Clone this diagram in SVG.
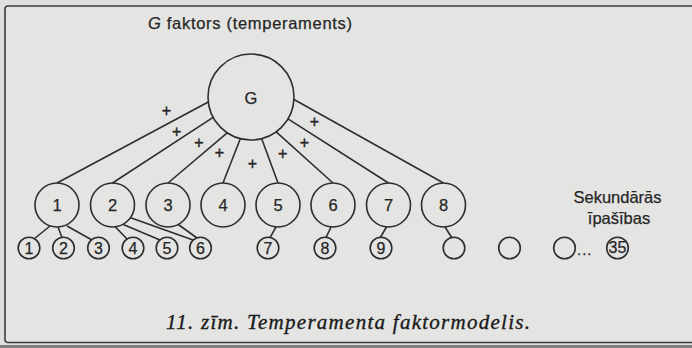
<svg xmlns="http://www.w3.org/2000/svg" width="692" height="348" viewBox="0 0 692 348">
<style>
.ln{stroke:#2e2e2e;stroke-width:1.6;fill:none}
.c{stroke:#2e2e2e;stroke-width:1.6;fill:none}
.t{font-family:"Liberation Sans",Arial,sans-serif;fill:#262626;stroke:#262626;stroke-width:0.25}
.n{font-family:"Liberation Sans",Arial,sans-serif;fill:#262626;stroke:#262626;stroke-width:0.25;font-size:16.5px;text-anchor:middle}
.s{font-family:"Liberation Sans",Arial,sans-serif;fill:#262626;stroke:#262626;stroke-width:0.25;font-size:16px;text-anchor:middle}
.p{font-family:"Liberation Sans",Arial,sans-serif;fill:#262626;stroke:#262626;stroke-width:0.4;font-size:16px;text-anchor:middle}
</style>
<rect x="0" y="0" width="692" height="348" fill="#dfdfdd"/>
<rect x="5" y="6" width="700" height="336.5" rx="3" fill="#e4e4e2" stroke="#3c3c3c" stroke-width="1.6"/>
<rect x="0" y="345" width="692" height="3" fill="#7e7e7c"/>
<text class="t" x="148" y="29" font-size="16.5" textLength="204" lengthAdjust="spacing"><tspan font-style="italic">G</tspan> faktors (temperaments)</text>

<g id="connectors">
<line class="ln" x1="208.3" y1="102" x2="57" y2="183"/>
<line class="ln" x1="213.1" y1="117.4" x2="112.5" y2="183"/>
<line class="ln" x1="227.2" y1="132.8" x2="168" y2="183"/>
<line class="ln" x1="240.3" y1="138.7" x2="223" y2="183"/>
<line class="ln" x1="261.7" y1="138.7" x2="278" y2="183"/>
<line class="ln" x1="276.2" y1="131.9" x2="333" y2="183"/>
<line class="ln" x1="288" y1="118.8" x2="388.5" y2="183"/>
<line class="ln" x1="294" y1="99.5" x2="443.5" y2="183"/>
<line class="ln" x1="50" y1="226" x2="34" y2="239"/>
<line class="ln" x1="58" y1="227" x2="62" y2="237.5"/>
<line class="ln" x1="67" y1="226" x2="92" y2="240"/>
<line class="ln" x1="115" y1="226.5" x2="127" y2="239"/>
<line class="ln" x1="123.3" y1="224.5" x2="160" y2="240"/>
<line class="ln" x1="130" y1="217.5" x2="193" y2="240"/>
<line class="ln" x1="178.3" y1="224.5" x2="197" y2="238"/>
<line class="ln" x1="276" y1="227" x2="270" y2="237.7"/>
<line class="ln" x1="331" y1="227" x2="326" y2="237.7"/>
<line class="ln" x1="386.5" y1="227" x2="380" y2="238"/>
<line class="ln" x1="445" y1="227" x2="452" y2="238"/>
<text class="p" x="166.5" y="115.5">+</text>
<text class="p" x="176.7" y="136.5">+</text>
<text class="p" x="199" y="147.5">+</text>
<text class="p" x="219.5" y="157.5">+</text>
<text class="p" x="252.3" y="168.5">+</text>
<text class="p" x="282.7" y="158.5">+</text>
<text class="p" x="304.5" y="147.5">+</text>
<text class="p" x="314.5" y="126.5">+</text>
</g>

<g id="G"><circle class="c" cx="251" cy="97" r="43"/><text class="n" x="251" y="104" font-size="17.5">G</text></g>

<g id="f1"><circle class="c" cx="57" cy="205" r="22"/><text class="n" x="57" y="211">1</text></g>
<g id="f2"><circle class="c" cx="112.5" cy="205" r="22"/><text class="n" x="112.5" y="211">2</text></g>
<g id="f3"><circle class="c" cx="168" cy="205" r="22"/><text class="n" x="168" y="211">3</text></g>
<g id="f4"><circle class="c" cx="223" cy="205" r="22"/><text class="n" x="223" y="211">4</text></g>
<g id="f5"><circle class="c" cx="278" cy="205" r="22"/><text class="n" x="278" y="211">5</text></g>
<g id="f6"><circle class="c" cx="333" cy="205" r="22"/><text class="n" x="333" y="211">6</text></g>
<g id="f7"><circle class="c" cx="388.5" cy="205" r="22"/><text class="n" x="388.5" y="211">7</text></g>
<g id="f8"><circle class="c" cx="443.5" cy="205" r="22"/><text class="n" x="443.5" y="211">8</text></g>

<g id="s1"><circle class="c" cx="29" cy="248" r="10.8"/><text class="s" x="29" y="253.8">1</text></g>
<g id="s2"><circle class="c" cx="63.5" cy="248" r="10.8"/><text class="s" x="63.5" y="253.8">2</text></g>
<g id="s3"><circle class="c" cx="98.5" cy="248" r="10.8"/><text class="s" x="98.5" y="253.8">3</text></g>
<g id="s4"><circle class="c" cx="133" cy="248" r="10.8"/><text class="s" x="133" y="253.8">4</text></g>
<g id="s5"><circle class="c" cx="167" cy="248" r="10.8"/><text class="s" x="167" y="253.8">5</text></g>
<g id="s6"><circle class="c" cx="200.5" cy="248" r="10.8"/><text class="s" x="200.5" y="253.8">6</text></g>
<g id="s7"><circle class="c" cx="268" cy="248" r="10.8"/><text class="s" x="268" y="253.8">7</text></g>
<g id="s8"><circle class="c" cx="325" cy="248" r="10.8"/><text class="s" x="325" y="253.8">8</text></g>
<g id="s9"><circle class="c" cx="381" cy="248" r="10.8"/><text class="s" x="381" y="253.8">9</text></g>
<g id="s10"><circle class="c" cx="454" cy="248" r="10.8"/></g>
<g id="s11"><circle class="c" cx="509.5" cy="248" r="10.8"/></g>
<g id="s12"><circle class="c" cx="564.5" cy="248" r="10.8"/></g>
<text class="t" x="577" y="255" font-size="15" letter-spacing="1">...</text>
<g id="s35"><circle class="c" cx="617.5" cy="248" r="10.8"/><text class="s" x="617.5" y="252.8" font-size="13.5">35</text></g>

<g id="label"><text class="t" x="617.5" y="203" font-size="16.5" text-anchor="middle">Sekundārās</text><text class="t" x="619" y="224" font-size="16.5" text-anchor="middle">īpašības</text></g>

<text x="166" y="329" font-family="'Liberation Serif','Times New Roman',serif" font-style="italic" font-size="21" fill="#1a1a1a" stroke="#1a1a1a" stroke-width="0.35" textLength="364" lengthAdjust="spacing">11. zīm. Temperamenta faktormodelis.</text>
</svg>
